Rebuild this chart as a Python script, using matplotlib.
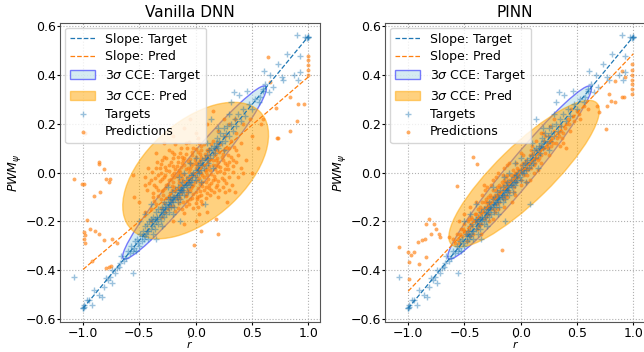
import numpy as np
import matplotlib
matplotlib.use("Agg")
import matplotlib.pyplot as plt
import matplotlib.transforms as transforms
from matplotlib.patches import Ellipse

titles = ["Vanilla DNN", "PINN"]

# measured targets (same set for both models)
targets = [
    # dense band along the diagonal
    (-0.62, -0.35), (-0.60, -0.32), (-0.58, -0.33), (-0.57, -0.30), (-0.55, -0.31), (-0.54, -0.28),
    (-0.53, -0.32), (-0.52, -0.27), (-0.51, -0.29), (-0.50, -0.30), (-0.49, -0.25), (-0.48, -0.28),
    (-0.47, -0.24), (-0.46, -0.27), (-0.45, -0.22), (-0.45, -0.26), (-0.44, -0.25), (-0.43, -0.21),
    (-0.42, -0.24), (-0.42, -0.27), (-0.41, -0.20), (-0.40, -0.23), (-0.40, -0.19), (-0.39, -0.22),
    (-0.38, -0.25), (-0.38, -0.18), (-0.37, -0.21), (-0.36, -0.19), (-0.36, -0.23), (-0.35, -0.16),
    (-0.35, -0.20), (-0.34, -0.18), (-0.33, -0.21), (-0.33, -0.15), (-0.32, -0.18), (-0.31, -0.16),
    (-0.31, -0.20), (-0.30, -0.14), (-0.30, -0.17), (-0.29, -0.15), (-0.28, -0.18), (-0.28, -0.12),
    (-0.27, -0.15), (-0.26, -0.13), (-0.26, -0.17), (-0.25, -0.11), (-0.25, -0.14), (-0.24, -0.16),
    (-0.23, -0.12), (-0.23, -0.10), (-0.22, -0.14), (-0.21, -0.11), (-0.21, -0.08), (-0.20, -0.12),
    (-0.19, -0.10), (-0.19, -0.14), (-0.18, -0.07), (-0.18, -0.11), (-0.17, -0.09), (-0.16, -0.12),
    (-0.16, -0.06), (-0.15, -0.09), (-0.14, -0.07), (-0.14, -0.11), (-0.13, -0.05), (-0.12, -0.08),
    (-0.12, -0.04), (-0.11, -0.07), (-0.10, -0.05), (-0.10, -0.09), (-0.09, -0.03), (-0.08, -0.06),
    (-0.07, -0.04), (-0.07, -0.08), (-0.06, -0.02), (-0.05, -0.05), (-0.04, -0.01), (-0.04, -0.04),
    (-0.03, -0.03), (-0.02, 0.00), (-0.01, -0.02), (0.00, 0.01), (0.00, -0.03), (0.01, 0.00),
    (0.02, 0.03), (0.03, 0.00), (0.04, 0.04), (0.05, 0.01), (0.06, 0.05), (0.07, 0.02),
    (0.08, 0.06), (0.09, 0.03), (0.10, 0.07), (0.11, 0.04), (0.12, 0.09), (0.13, 0.06),
    (0.14, 0.10), (0.15, 0.07), (0.16, 0.11), (0.17, 0.08), (0.18, 0.12), (0.19, 0.14),
    (0.20, 0.10), (0.21, 0.13), (0.22, 0.16), (0.23, 0.12), (0.24, 0.15), (0.25, 0.18),
    (0.26, 0.13), (0.27, 0.16), (0.28, 0.19), (0.30, 0.15), (0.31, 0.20), (0.33, 0.17),
    (0.35, 0.22), (0.36, 0.19), (0.38, 0.24), (0.40, 0.21), (0.42, 0.26), (0.44, 0.23),
    (0.47, 0.28), (0.50, 0.26), (0.53, 0.30), (0.57, 0.31), (0.60, 0.34),
    # second pass through the band
    (-0.56, -0.32), (-0.48, -0.26), (-0.43, -0.24), (-0.39, -0.20), (-0.34, -0.19), (-0.29, -0.16),
    (-0.24, -0.13), (-0.20, -0.10), (-0.17, -0.10), (-0.13, -0.07), (-0.09, -0.05), (-0.06, -0.04),
    (-0.03, -0.01), (0.02, 0.01), (0.06, 0.03), (0.10, 0.05), (0.15, 0.09), (0.19, 0.11),
    (-0.27, -0.14), (-0.22, -0.12), (-0.15, -0.08), (-0.11, -0.06),
    # looser points around the band
    (-0.45, -0.17), (-0.50, -0.20), (-0.40, -0.13), (-0.30, -0.22), (-0.20, -0.17), (-0.25, -0.06),
    (-0.15, -0.02), (-0.10, 0.00), (0.05, -0.04), (0.10, 0.12), (0.00, 0.06), (-0.35, -0.27),
    (0.15, 0.02), (0.20, 0.18), (0.25, 0.09), (0.08, -0.13), (-0.14, -0.20), (0.14, 0.22),
    (-0.05, 0.04), (0.30, 0.24),
    # upper tail
    (0.97, 0.555), (0.99, 0.55), (1.00, 0.555), (1.00, 0.555), (1.00, 0.555), (0.90, 0.56),
    (0.815, 0.486), (0.93, 0.478), (0.73, 0.445), (0.87, 0.40), (0.91, 0.38), (0.78, 0.38),
    (0.665, 0.40), (0.69, 0.35), (0.595, 0.335), (0.34, 0.33), (0.385, 0.315), (0.31, 0.29),
    (0.93, 0.41), (0.61, 0.415), (0.46, 0.335), (0.56, 0.29), (0.77, 0.39), (0.65, 0.33),
    (0.62, 0.36),
    # lower tail
    (-1.08, -0.427), (-0.553, -0.41), (-0.994, -0.543), (-0.965, -0.522), (-0.92, -0.543),
    (-0.905, -0.48), (-0.86, -0.50), (-0.818, -0.468), (-0.83, -0.51), (-0.80, -0.433),
    (-0.76, -0.427), (-0.745, -0.453), (-0.72, -0.412), (-0.685, -0.386), (-0.67, -0.37),
    (-0.78, -0.44), (-0.74, -0.40), (-0.95, -0.52), (-1.00, -0.555), (-1.00, -0.555),
    (-0.99, -0.55), (-0.70, -0.39), (-0.64, -0.36), (-0.66, -0.34),
]

preds_dnn = [
    # central blob
    (-0.06, 0.125), (0.07, 0.115), (0.15, 0.13), (0.22, 0.118), (0.31, 0.127), (0.02, 0.14), (0.26, 0.15),
    (-0.13, 0.10), (0.00, 0.095), (0.05, 0.108), (0.12, 0.097), (0.18, 0.104), (0.25, 0.093), (0.34, 0.106),
    (-0.18, 0.115), (-0.21, 0.082), (-0.09, 0.076), (0.02, 0.085), (0.08, 0.074), (0.11, 0.088),
    (0.16, 0.079), (0.21, 0.084), (0.29, 0.072), (-0.03, 0.07), (-0.26, 0.058), (-0.16, 0.064),
    (-0.05, 0.055), (0.00, 0.062), (0.04, 0.052), (0.09, 0.066), (0.13, 0.057), (0.19, 0.061),
    (0.24, 0.053), (0.31, 0.065), (-0.11, 0.05), (-0.31, 0.035), (-0.22, 0.044), (-0.12, 0.038),
    (-0.07, 0.046), (-0.02, 0.033), (0.03, 0.042), (0.06, 0.036), (0.11, 0.045), (0.15, 0.031),
    (0.20, 0.043), (0.26, 0.037), (0.36, 0.041), (-0.17, 0.028), (-0.35, 0.018), (-0.27, 0.024),
    (-0.18, 0.015), (-0.13, 0.022), (-0.09, 0.013), (-0.04, 0.026), (0.00, 0.017), (0.04, 0.023),
    (0.08, 0.012), (0.12, 0.025), (0.17, 0.016), (0.22, 0.021), (0.29, 0.014), (0.40, 0.02),
    (-0.39, 0.002), (-0.31, -0.004), (-0.24, 0.006), (-0.19, -0.002), (-0.14, 0.004), (-0.10, -0.006),
    (-0.06, 0.003), (-0.02, -0.003), (0.02, 0.005), (0.05, -0.004), (0.09, 0.002), (0.14, -0.005),
    (0.19, 0.004), (0.25, -0.002), (0.33, 0.003), (-0.27, -0.01), (-0.36, -0.022), (-0.28, -0.017),
    (-0.22, -0.025), (-0.17, -0.015), (-0.12, -0.023), (-0.08, -0.018), (-0.04, -0.026), (0.00, -0.016),
    (0.03, -0.024), (0.07, -0.019), (0.11, -0.026), (0.16, -0.014), (0.23, -0.021), (0.30, -0.018),
    (-0.45, -0.02), (-0.41, -0.043), (-0.32, -0.036), (-0.25, -0.045), (-0.20, -0.038), (-0.15, -0.044),
    (-0.11, -0.035), (-0.06, -0.042), (-0.01, -0.037), (0.04, -0.046), (0.09, -0.039), (0.14, -0.043),
    (0.20, -0.036), (0.27, -0.041), (-0.35, -0.058), (-0.27, -0.064), (-0.21, -0.056), (-0.16, -0.063),
    (-0.12, -0.055), (-0.07, -0.066), (-0.03, -0.057), (0.02, -0.062), (0.06, -0.055), (0.12, -0.065),
    (0.18, -0.058), (0.24, -0.061), (-0.38, -0.083), (-0.30, -0.077), (-0.23, -0.085), (-0.18, -0.076),
    (-0.13, -0.084), (-0.08, -0.078), (-0.02, -0.086), (0.04, -0.075), (0.10, -0.082), (0.16, -0.079),
    (-0.33, -0.098), (-0.26, -0.104), (-0.19, -0.096), (-0.14, -0.105), (-0.09, -0.097), (-0.03, -0.103),
    (0.03, -0.095), (0.09, -0.106), (-0.37, -0.118), (-0.28, -0.124), (-0.21, -0.116), (-0.15, -0.125),
    (-0.08, -0.117), (0.00, -0.123), (0.06, -0.13), (-0.31, -0.143), (-0.23, -0.137), (-0.16, -0.145),
    (-0.09, -0.138), (-0.02, -0.147), (-0.27, -0.162), (-0.18, -0.157), (-0.10, -0.166), (-0.40, -0.15),
    # in-between points of the blob
    (-0.30, 0.05), (-0.24, 0.03), (-0.16, 0.045), (-0.10, 0.03), (-0.05, 0.015), (0.01, 0.03),
    (0.07, 0.055), (0.13, 0.01), (0.18, 0.03), (0.24, 0.075), (-0.33, -0.01), (-0.21, -0.01),
    (-0.15, -0.03), (-0.09, -0.045), (-0.03, -0.01), (0.06, -0.01), (0.12, -0.05), (0.17, -0.025),
    (0.22, 0.005), (0.28, 0.03), (-0.37, -0.05), (-0.29, -0.07), (-0.24, -0.095), (-0.17, -0.11),
    (-0.11, -0.07), (-0.05, -0.075), (0.01, -0.11), (0.07, -0.07), (0.13, -0.09), (-0.20, -0.135),
    (-0.12, -0.15), (-0.06, -0.13), (0.02, -0.14), (-0.35, -0.13), (-0.25, -0.15), (0.05, 0.09),
    (0.10, 0.06), (-0.02, 0.10), (0.19, 0.09), (0.28, 0.10), (0.33, 0.05), (-0.20, 0.06),
    (-0.14, 0.08), (-0.08, 0.10), (0.14, 0.115), (0.38, 0.07), (0.42, 0.00), (0.32, -0.05),
    (0.26, -0.08), (0.21, -0.07),
    (-0.28, 0.065), (-0.19, 0.075), (-0.12, 0.065), (-0.03, 0.085), (0.04, 0.075), (0.10, 0.09),
    (0.17, 0.095), (0.23, 0.065), (0.30, 0.045), (-0.34, 0.045), (-0.26, 0.01), (-0.20, 0.025),
    (-0.15, 0.012), (-0.07, 0.02), (-0.01, 0.05), (0.03, 0.01), (0.07, 0.03), (0.10, 0.015),
    (0.15, 0.05), (0.20, 0.025), (0.26, 0.015), (0.33, 0.025), (-0.40, -0.03), (-0.30, -0.025),
    (-0.24, -0.03), (-0.19, -0.02), (-0.13, -0.01), (-0.07, -0.03), (-0.02, -0.05), (0.02, -0.03),
    (0.06, -0.04), (0.10, -0.01), (0.15, -0.03), (0.19, -0.05), (0.25, -0.03), (-0.33, -0.07),
    (-0.26, -0.05), (-0.19, -0.06), (-0.14, -0.07), (-0.09, -0.09), (-0.04, -0.065), (0.00, -0.08),
    (0.05, -0.09), (0.09, -0.06), (0.14, -0.07), (-0.31, -0.11), (-0.23, -0.11), (-0.16, -0.095),
    (-0.11, -0.12), (-0.05, -0.11), (0.01, -0.10), (0.05, -0.115), (-0.29, -0.09), (-0.21, -0.07),
    (-0.05, 0.04), (0.00, 0.04), (0.05, 0.065), (-0.10, 0.06), (-0.16, 0.00), (0.12, 0.07),
    (0.18, 0.05), (-0.09, 0.12), (0.03, 0.12), (0.20, 0.12), (-0.24, 0.09), (-0.32, 0.02),
    (-0.38, -0.10), (-0.43, -0.07), (0.30, -0.07), (0.36, 0.09),
    # sparse edge of the blob
    (-0.45, -0.05), (-0.50, -0.12), (-0.42, 0.02), (-0.35, 0.08), (-0.28, 0.12), (-0.20, 0.15),
    (-0.10, 0.18), (0.00, 0.16), (0.10, 0.20), (0.20, 0.17), (0.30, 0.10), (0.40, 0.12),
    (0.45, 0.05), (0.38, -0.02), (0.35, -0.08), (0.28, -0.12), (0.20, -0.10), (0.10, -0.16),
    (0.00, -0.20), (-0.10, -0.21), (-0.20, -0.20), (-0.30, -0.18), (-0.45, -0.16), (0.50, 0.15),
    (0.55, 0.10), (0.42, 0.20), (0.25, 0.22), (-0.05, 0.22), (0.36, 0.16), (0.48, 0.22),
    (0.15, 0.25), (-0.55, -0.10), (0.58, 0.20), (0.50, 0.00), (0.30, 0.20), (0.35, 0.22),
    (-0.40, -0.20),
    # outliers
    (-0.862, 0.042), (-1.08, -0.025), (-0.994, -0.046), (-0.818, 0.016), (-0.80, -0.025), (-0.76, -0.025),
    (-0.77, -0.04), (-0.905, -0.094), (-0.965, -0.196), (-0.994, -0.244), (-0.98, -0.257), (-0.94, -0.23),
    (-0.894, -0.237), (-0.86, -0.25), (-0.99, -0.27), (-0.98, -0.29), (-0.818, -0.277), (-0.745, -0.27),
    (-0.70, -0.29), (-0.77, -0.386), (-0.80, -0.39), (-0.75, -0.38), (-0.553, -0.012), (-1.01, -0.045),
    (-0.92, -0.36), (-0.85, -0.08), (-0.013, -0.298), (0.05, -0.237), (0.195, -0.25), (0.18, -0.188),
    (0.03, -0.17), (-0.98, 0.16), (-0.86, 0.036),
    (1.00, 0.478), (1.00, 0.46), (1.00, 0.44), (1.00, 0.42), (1.00, 0.40), (0.64, 0.47),
    (0.84, 0.307), (0.91, 0.28), (0.90, 0.212), (0.735, 0.139), (0.665, 0.369), (0.71, 0.265),
    (0.84, 0.17), (0.96, 0.28), (0.725, 0.143), (0.60, 0.22),
]

preds_pinn = [
    # band along the diagonal
    (-0.60, -0.27), (-0.57, -0.25), (-0.55, -0.29), (-0.53, -0.23), (-0.52, -0.26), (-0.50, -0.21),
    (-0.49, -0.25), (-0.48, -0.28), (-0.47, -0.20), (-0.46, -0.23), (-0.45, -0.26), (-0.44, -0.18),
    (-0.43, -0.22), (-0.42, -0.25), (-0.41, -0.17), (-0.40, -0.20), (-0.39, -0.23), (-0.38, -0.15),
    (-0.38, -0.19), (-0.37, -0.22), (-0.36, -0.14), (-0.35, -0.17), (-0.35, -0.21), (-0.34, -0.12),
    (-0.33, -0.16), (-0.33, -0.19), (-0.32, -0.14), (-0.31, -0.11), (-0.31, -0.18), (-0.30, -0.15),
    (-0.29, -0.10), (-0.29, -0.13), (-0.28, -0.17), (-0.27, -0.12), (-0.27, -0.09), (-0.26, -0.15),
    (-0.25, -0.11), (-0.25, -0.07), (-0.24, -0.13), (-0.23, -0.09), (-0.23, -0.16), (-0.22, -0.11),
    (-0.21, -0.06), (-0.21, -0.13), (-0.20, -0.09), (-0.19, -0.05), (-0.19, -0.12), (-0.18, -0.08),
    (-0.17, -0.10), (-0.17, -0.04), (-0.16, -0.07), (-0.15, -0.11), (-0.15, -0.03), (-0.14, -0.06),
    (-0.13, -0.09), (-0.12, -0.04), (-0.12, -0.01), (-0.11, -0.07), (-0.10, -0.03), (-0.10, -0.08),
    (-0.09, -0.01), (-0.08, -0.05), (-0.07, -0.02), (-0.07, 0.01), (-0.06, -0.06), (-0.05, -0.03),
    (-0.04, 0.00), (-0.04, -0.04), (-0.03, 0.02), (-0.02, -0.02), (-0.01, 0.01), (0.00, -0.03),
    (0.00, 0.03), (0.01, 0.00), (0.02, 0.04), (0.03, -0.01), (0.04, 0.02), (0.05, 0.05),
    (0.06, 0.01), (0.07, 0.04), (0.08, 0.07), (0.09, 0.02), (0.10, 0.05), (0.11, 0.08),
    (0.12, 0.03), (0.13, 0.06), (0.14, 0.09), (0.15, 0.05), (0.16, 0.08), (0.17, 0.11),
    (0.18, 0.07), (0.20, 0.10), (0.21, 0.13), (0.22, 0.08), (0.24, 0.12), (0.25, 0.15),
    (0.27, 0.11), (0.28, 0.14), (0.30, 0.17), (0.31, 0.12), (0.33, 0.16), (0.35, 0.19),
    (0.37, 0.14), (0.39, 0.18), (0.42, 0.22), (0.44, 0.17), (0.47, 0.21), (0.50, 0.25),
    (0.53, 0.22), (0.56, 0.27), (0.60, 0.26),
    # second pass through the band
    (-0.58, -0.29), (-0.54, -0.25), (-0.51, -0.23), (-0.47, -0.24), (-0.44, -0.21), (-0.41, -0.20),
    (-0.37, -0.18), (-0.34, -0.15), (-0.30, -0.12), (-0.27, -0.14), (-0.24, -0.10), (-0.21, -0.09),
    (-0.18, -0.06), (-0.14, -0.04), (-0.11, -0.05), (-0.08, -0.03), (-0.05, 0.00), (-0.02, 0.01),
    (0.02, 0.01), (0.05, 0.02), (0.08, 0.04), (0.11, 0.05), (0.14, 0.06), (0.17, 0.09),
    (0.21, 0.10), (0.24, 0.10), (0.27, 0.13), (0.32, 0.14), (0.36, 0.17), (0.40, 0.20),
    (0.46, 0.23), (0.52, 0.24), (-0.28, -0.20), (-0.20, -0.15), (-0.12, -0.10), (0.00, -0.05),
    (0.12, 0.00), (-0.32, -0.07), (-0.22, -0.02), (-0.12, 0.03), (0.02, 0.07), (0.14, 0.13),
    (0.26, 0.19), (0.38, 0.12),
    (-0.56, -0.27), (-0.50, -0.24), (-0.46, -0.19), (-0.43, -0.19), (-0.40, -0.17), (-0.36, -0.16),
    (-0.32, -0.12), (-0.29, -0.14), (-0.26, -0.10), (-0.22, -0.07), (-0.19, -0.08), (-0.16, -0.05),
    (-0.13, -0.02), (-0.09, -0.04), (-0.06, -0.01), (-0.03, -0.02), (0.01, 0.02), (0.04, 0.04),
    (0.07, 0.02), (0.10, 0.07), (0.13, 0.04), (0.16, 0.06), (0.19, 0.10), (0.23, 0.11),
    (0.26, 0.13), (0.29, 0.12), (0.34, 0.15), (0.38, 0.16), (0.43, 0.20), (-0.38, -0.21),
    (-0.30, -0.17), (-0.24, -0.15), (-0.16, -0.09), (-0.06, -0.08), (0.06, -0.01), (0.18, 0.04),
    (-0.34, -0.09), (-0.26, -0.05), (-0.16, -0.01), (-0.04, 0.04), (0.09, 0.09), (0.22, 0.15),
    # looser points around the band
    (-0.45, -0.14), (-0.40, -0.12), (-0.30, -0.06), (-0.25, -0.03), (-0.20, 0.00), (-0.10, 0.04),
    (0.00, 0.08), (0.10, 0.11), (0.20, 0.16), (-0.50, -0.17), (-0.35, -0.25), (-0.25, -0.19),
    (-0.15, -0.14), (-0.05, -0.09), (0.05, -0.04), (0.15, 0.01), (0.25, 0.07), (0.35, 0.11),
    (0.45, 0.26), (0.40, 0.10), (-0.55, -0.20), (-0.15, 0.02), (0.08, -0.03), (0.30, 0.22),
    (-0.42, 0.063), (-0.39, 0.036), (-0.33, -0.05), (0.18, 0.16), (-0.08, -0.12),
    # outliers
    (-0.566, -0.057), (-0.815, -0.189), (-0.844, -0.209), (-0.77, -0.21), (-0.756, -0.229),
    (-0.80, -0.25), (-0.73, -0.25), (-0.713, -0.264), (-0.917, -0.284), (-0.873, -0.277),
    (-0.85, -0.27), (-1.08, -0.305), (-1.005, -0.325), (-0.976, -0.339), (-0.95, -0.325),
    (-0.99, -0.366), (-0.90, -0.373), (-0.844, -0.345), (-0.99, -0.434), (-0.17, -0.318),
    (-0.64, -0.264),
    (0.988, 0.445), (0.988, 0.42), (0.988, 0.40), (0.988, 0.38), (0.988, 0.36), (0.988, 0.34),
    (0.988, 0.322), (0.90, 0.416), (0.93, 0.39), (0.84, 0.375), (0.80, 0.294), (0.77, 0.273),
    (0.84, 0.287), (0.90, 0.31), (0.695, 0.246), (0.68, 0.273), (0.754, 0.178), (0.915, 0.307),
    (0.78, 0.32),
]

# fitted slope lines: (slope, intercept)
slope_target = (0.555, 0.0)
slope_pred = [(0.393, -0.003), (0.485, 0.0)]

# 3-sigma ellipses: (mean_x, mean_y, std_x, std_y, pearson)
cce_target = (-0.01, 0.0, 0.213, 0.118, 0.97)
cce_pred = [(0.0, 0.008, 0.216, 0.093, 0.52), (0.03, -0.005, 0.223, 0.10, 0.86)]


def confidence_ellipse(ax, mx, my, sx, sy, rho, n_std=3.0, **kwargs):
    ell = Ellipse((0, 0), width=2 * np.sqrt(1 + rho), height=2 * np.sqrt(1 - rho), **kwargs)
    tr = transforms.Affine2D().rotate_deg(45).scale(sx * n_std, sy * n_std).translate(mx, my)
    ell.set_transform(tr + ax.transData)
    return ax.add_patch(ell)


plt.rcParams["font.size"] = 9

fig = plt.figure(figsize=(6.44, 3.52), dpi=100)
axes = [fig.add_axes([0.0932, 0.0844, 0.4037, 0.851]),
        fig.add_axes([0.598, 0.0844, 0.4037, 0.851])]

tx, ty = np.array(targets).T
xs = np.array([-1.0, 1.0])

for i, ax in enumerate(axes):
    px, py = np.array([preds_dnn, preds_pinn][i]).T

    ax.plot(xs, slope_target[0] * xs + slope_target[1], "--", color="tab:blue", lw=0.9,
            label="Slope: Target", zorder=4)
    ax.plot(xs, slope_pred[i][0] * xs + slope_pred[i][1], "--", color="tab:orange", lw=0.9,
            label="Slope: Pred", zorder=4)

    confidence_ellipse(ax, *cce_target, facecolor="lightblue", edgecolor="blue", alpha=0.5,
                       label="3$\\sigma$ CCE: Target", zorder=1)
    confidence_ellipse(ax, *cce_pred[i], facecolor="orange", edgecolor="orange", alpha=0.5,
                       label="3$\\sigma$ CCE: Pred", zorder=1)

    ax.scatter(tx, ty, marker="+", s=20, lw=1.0, color="tab:blue", alpha=0.45,
               label="Targets", zorder=3)
    ax.scatter(px, py, marker=".", s=32, lw=0, color="tab:orange", alpha=0.65,
               label="Predictions", zorder=2)

    ax.set_xlim(-1.205, 1.105)
    ax.set_ylim(-0.612, 0.612)
    ax.set_xticks([-1.0, -0.5, 0.0, 0.5, 1.0])
    ax.set_yticks([-0.6, -0.4, -0.2, 0.0, 0.2, 0.4, 0.6])
    ax.tick_params(length=2.5, pad=0.6)
    ax.grid(True, linestyle=":", color="#b0b0b0", lw=0.8)
    ax.set_axisbelow(True)
    for sp in ax.spines.values():
        sp.set_color("#555555")
    ax.set_title(titles[i], fontsize=11, pad=4)
    ax.set_xlabel("$\\dot{r}$", fontsize=8, va="bottom")
    ax.xaxis.set_label_coords(0.5, -0.096)
    ax.set_ylabel("$PWM_\\psi$", labelpad=2)
    ax.legend(loc="upper left", fontsize=9, borderaxespad=0.4, labelspacing=0.38)

fig.savefig("out.png", dpi=100)
